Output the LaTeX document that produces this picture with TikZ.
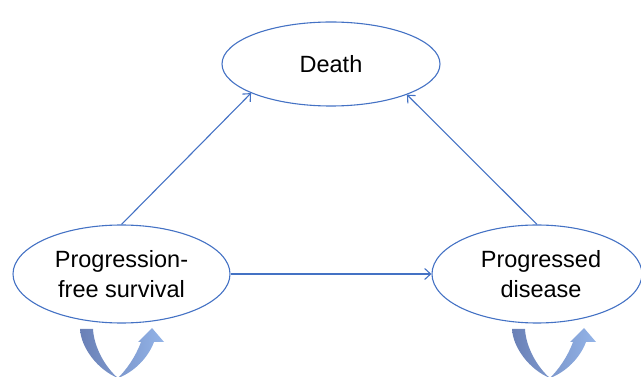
\documentclass[tikz,border=0pt]{standalone}
\usepackage{fontspec}
\setmainfont{Liberation Sans}
\usepackage{xcolor}
\usetikzlibrary{positioning,shapes,arrows.meta}
\definecolor{lineblue}{HTML}{4472C4}
\definecolor{loopdark}{HTML}{6A80B6}
\definecolor{looplight}{HTML}{93B4E8}
\tikzset{
  every overlay node/.style={}
}
% U-shaped self-loop arrow, #1 = left edge of the left arm
\newcommand{\selfloop}[1]{%
  \begin{scope}[shift={(#1,0)}]
    \shade[left color=loopdark, right color=looplight, draw=none]
      (0,329) .. controls (1,348) and (18,370) .. (38,378)
      .. controls (54,372) and (68,358) .. (74,342)
      -- (84,342) -- (72,328) -- (58,342) -- (61,342)
      .. controls (55,358) and (46,370) .. (38,378)
      .. controls (26,368) and (14,348) .. (13,329) -- cycle;
  \end{scope}}

\begin{document}
\begin{tikzpicture}[x=1pt,y=-1pt,
              state/.style = {ellipse, draw=lineblue, line width=1.1pt, inner sep=0pt,
                              align=center, font=\fontsize{23.5}{30}\selectfont},
              link/.style = {-{Straight Barb[length=6pt,width=11pt]}, line width=1.1pt, draw=lineblue}]
      \useasboundingbox (0,0) rectangle (641,377);
      \node[state, minimum width=218pt, minimum height=84pt] (death) at (331, 64) {Death};
      \node[state, minimum width=217pt, minimum height=98pt] (pfs) at (121.5, 274) {Progression-\\free survival};
      \node[state, minimum width=210pt, minimum height=98pt] (pd) at (537, 274) {\hspace{8pt}Progressed\\\hspace{8pt}disease};

      \draw[link] (pfs.north) to (death.200);
      \draw[link] (pd.north) to (death.338);
      \draw[link] (pfs.east) to (pd.west);

      \selfloop{80}
      \selfloop{512}
\end{tikzpicture}
\end{document}
